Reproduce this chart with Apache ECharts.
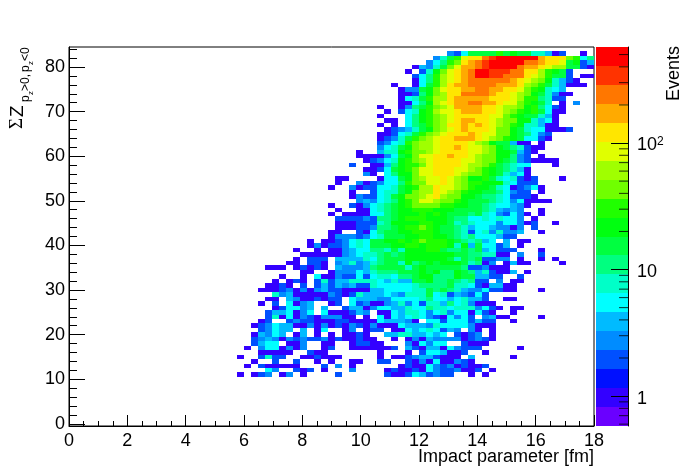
<!DOCTYPE html>
<html>
<head>
<meta charset="utf-8">
<style>html,body{margin:0;padding:0;background:#fff}#chart{width:698px;height:474px}</style>
<script src="https://cdn.jsdelivr.net/npm/echarts@6/dist/echarts.min.js"></script>
</head>
<body>
<div id="chart"></div>
<script>
// each row: Z value is in the name, first entry is the first impact-parameter bin, the rest are event counts
const z11 = [24,1,0,1,2,3,0,1,3,0,1,0,0,0,0,2,0,0,0,0,0,0,2,1,1,2,5,4,2,3,2,2,0,0,1,0,1]
const z12 = [28,5,3,0,0,2,1,2,0,1,0,0,0,3,0,0,0,0,1,2,1,1,2,1,5,3,2,2,3,1,1,2,0,1]
const z13 = [25,1,0,2,1,1,1,1,1,0,0,0,2,0,3,0,1,0,0,0,0,0,0,1,2,1,1,5,3,2,3,1,2,1,1,2]
const z14 = [26,1,0,0,2,0,0,2,0,0,1,0,1,0,0,1,1,0,0,2,2,0,0,2,1,3,1,5,1,1,3,2,1]
const z15 = [24,1,0,0,2,7,2,2,0,0,1,1,2,1,1,1,0,0,0,0,0,1,0,1,1,2,3,4,4,2,1,1,1,0,4,0,0,0,0,0,1]
const z16 = [27,1,1,1,1,1,0,0,2,1,1,0,0,0,0,0,0,0,1,0,0,0,1,0,2,5,5,4,1,1,2,0,0,1]
const z17 = [25,1,0,3,5,5,1,3,1,3,0,0,1,2,0,0,1,1,1,1,1,1,2,0,4,2,1,4,4,1,5,3,2,2,2,0,0,0,0,0,1]
const z18 = [26,2,4,5,6,0,1,1,3,0,0,1,1,0,0,1,2,2,1,1,0,0,0,3,1,5,3,5,5,0,0,2,1,1,1]
const z19 = [26,2,3,4,3,1,3,2,3,2,2,3,1,2,1,1,2,1,1,0,0,1,0,1,3,1,4,3,3,3,3,1,2,3,2,1]
const z20 = [26,1,4,3,5,4,0,1,4,0,1,0,1,0,1,1,2,1,0,0,4,4,7,7,4,4,5,4,5,0,2,1,2,3,0,1]
const z21 = [27,2,3,5,4,4,0,4,0,1,5,0,0,1,3,0,1,2,2,0,1,1,5,4,5,7,5,2,4,3,0,3,1,0,1]
const z22 = [26,1,2,3,5,4,4,1,1,3,1,3,1,2,1,3,2,1,3,1,1,1,6,4,4,4,3,7,5,5,5,5,3,1,1,1]
const z23 = [27,1,2,0,0,2,3,2,2,1,1,1,2,2,1,1,1,1,5,4,4,4,3,1,0,5,5,2,5,5,5,2,4,2,2,0,0,1]
const z24 = [28,2,7,1,5,1,3,2,1,3,3,3,1,1,0,1,0,5,1,5,4,5,8,5,3,2,1,5,3,5,2,0,3,4,1,1,0,0,0,0,1]
const z25 = [28,2,4,4,6,1,3,5,0,5,1,1,1,2,4,3,0,1,1,5,4,8,8,5,3,5,7,3,6,5,1,5,2,1,0,0,1]
const z26 = [29,1,2,6,5,3,4,0,4,0,0,2,4,4,1,3,5,5,4,4,8,5,5,10,7,7,5,7,8,8,3,5,2,1,0,1,1]
const z27 = [27,1,0,2,0,5,1,3,4,0,0,1,2,0,5,2,3,1,1,3,4,7,3,5,2,8,8,4,10,5,8,3,1,1,1]
const z28 = [28,1,1,0,4,3,1,1,2,1,2,2,0,5,4,4,4,3,3,5,5,5,5,8,10,5,6,4,5,8,4,4,2,0,0,1,1]
const z29 = [29,7,3,4,1,1,1,1,1,3,2,1,2,7,4,4,4,5,4,3,7,7,8,15,6,8,2,4,3,2,5,2]
const z30 = [27,1,1,1,2,3,1,3,1,3,4,2,2,1,1,1,1,4,4,5,5,5,5,8,8,15,10,15,10,7,4,3,3,6,2,2,1,1,0,0,0,1]
const z31 = [28,1,1,2,1,0,2,0,2,4,2,4,3,4,2,2,7,5,5,5,5,5,8,10,10,10,10,15,8,8,5,2,1,4,4,1,1]
const z32 = [29,1,0,1,2,1,0,2,8,2,4,4,7,7,7,7,5,4,8,4,4,15,15,21,10,10,15,10,8,10,2,2,0,3,0,1,1]
const z33 = [30,1,0,0,1,0,5,1,1,3,2,2,5,2,5,8,8,5,10,10,15,21,21,10,10,10,21,15,15,4,4,2,2,0,0,2]
const z34 = [33,1,1,0,0,1,3,3,3,5,4,8,10,10,10,15,15,15,21,15,21,10,10,21,15,10,4,7,2,1,1,4,0,1]
const z35 = [28,1,1,1,0,1,2,1,2,1,0,4,3,3,3,4,10,15,15,15,15,8,15,21,15,15,15,15,15,10,2,2,3,1,1,1]
const z36 = [31,1,1,0,2,2,1,0,3,4,7,3,4,8,10,15,15,8,21,10,15,21,15,21,21,21,15,8,10,1,3,0,1,4,1,1,0,0,0,0,1]
const z37 = [32,1,0,2,2,2,0,4,4,4,4,8,5,10,15,15,15,21,21,21,21,21,21,15,8,15,10,15,2,2,3,3,0,1,0,0,1,0,1]
const z38 = [33,1,1,1,1,1,1,3,4,5,7,8,10,15,10,15,21,21,21,21,21,21,21,15,15,10,10,8,8,1,1,0,3,0,0,2]
const z39 = [32,1,0,0,1,0,1,1,3,4,5,5,10,10,8,15,8,21,21,21,30,30,15,10,10,15,10,15,4,5,2,2,2,0,0,0,1]
const z40 = [34,1,3,1,2,2,3,5,8,5,15,15,15,21,21,30,30,21,30,30,30,21,8,21,4,15,5,5,2,4,0,1]
const z41 = [34,1,0,1,1,2,3,5,7,5,15,15,21,21,30,21,30,42,30,30,30,21,15,10,8,10,4,5,0,4,0,1,1]
const z42 = [37,1,3,3,3,2,3,5,8,15,15,15,21,21,30,30,21,21,15,10,8,10,5,5,5,4,2,2]
const z43 = [37,1,1,0,0,2,1,5,10,15,15,21,21,30,30,30,21,15,15,10,8,2,5,8,3,7,3,3,4,0,0,1]
const z44 = [38,1,1,1,2,2,3,10,10,15,21,30,30,42,30,21,15,15,10,8,4,6,5,4,3,3,1,3,0,2]
const z45 = [38,1,1,1,2,2,2,7,10,21,21,21,21,30,30,21,21,15,8,10,8,6,6,5,3,5,5,3,1,2,0,0,1]
const z46 = [38,2,2,2,2,3,2,10,10,15,21,30,30,30,21,21,21,15,10,10,5,5,7,5,7,5,5,3,0,1]
const z47 = [37,1,0,1,1,1,1,5,5,10,15,21,21,21,30,21,30,21,15,15,15,10,15,8,5,3,2,5,3,1,0,1]
const z48 = [38,1,0,0,1,1,5,8,10,15,21,21,30,30,30,21,21,21,15,15,15,15,10,8,4,3,4,3,0,0,1]
const z49 = [37,1,0,0,2,1,3,5,8,10,15,21,30,42,42,42,42,30,30,21,21,15,15,10,8,6,5,4,3,1]
const z50 = [41,3,4,3,5,8,10,21,30,42,84,84,60,42,42,30,21,15,15,15,10,8,5,3,5,1,1,1,1]
const z51 = [40,1,3,2,2,5,8,15,21,42,42,60,84,118,60,42,42,21,21,15,10,10,8,5,2,2,2,1]
const z52 = [40,1,0,0,2,5,7,8,15,21,42,60,60,118,84,60,42,30,21,21,15,15,10,5,3,2,2,0,1]
const z53 = [37,1,0,0,3,1,2,2,5,5,8,15,21,30,60,60,118,84,84,60,42,30,21,21,15,8,6,1,2,3,5,1]
const z54 = [38,1,0,0,3,1,2,3,5,5,10,30,42,42,84,84,118,84,60,42,30,30,21,21,21,8,6,2,2,2]
const z55 = [38,1,1,0,0,0,0,1,5,5,15,21,42,60,84,84,118,84,60,42,21,21,30,15,8,6,7,2,1,2,0,0,0,1]
const z56 = [42,3,1,0,5,10,21,21,42,84,84,118,118,118,84,60,42,42,30,21,15,8,4,5,1]
const z57 = [42,1,1,2,5,15,21,30,42,84,84,118,118,118,84,84,60,42,30,21,15,10,7,4,1]
const z58 = [40,2,0,0,1,1,4,10,21,30,30,42,84,118,118,118,118,84,60,60,42,30,15,10,8,5,5,0,0,0,1]
const z59 = [42,1,2,3,5,7,21,30,42,60,84,118,118,118,118,84,84,60,42,42,21,15,10,3,2,1,1,1,1]
const z60 = [41,1,1,1,1,3,5,15,21,42,84,84,118,118,166,118,118,84,60,42,42,21,21,10,3,2,0,1]
const z61 = [41,1,0,0,4,8,8,21,30,42,42,60,84,118,118,118,118,84,84,60,42,21,21,15,4,2,1]
const z62 = [44,3,5,7,15,21,42,60,60,84,118,118,166,118,84,84,60,42,21,15,10,7,2,1,1]
const z63 = [44,2,3,5,8,30,42,60,60,84,118,118,118,118,84,60,42,21,15,15,4,1,1,0,1]
const z64 = [44,1,2,3,8,15,30,42,60,84,118,118,166,166,166,118,84,60,42,30,21,15,5,5,2,1]
const z65 = [44,1,1,2,5,8,15,30,42,60,84,118,118,118,166,118,84,84,42,42,21,15,10,5,3,2]
const z66 = [45,1,2,3,4,8,15,21,42,60,84,118,166,118,118,118,84,42,42,21,15,8,5,5,1,1,1,2]
const z67 = [44,1,0,1,0,5,10,15,30,42,60,118,118,166,118,166,118,84,60,42,30,21,8,8,4,1,1]
const z68 = [45,1,1,0,5,10,21,30,42,60,84,118,166,166,118,118,84,60,42,42,21,21,7,4,5,1]
const z69 = [44,1,0,0,0,5,10,21,30,42,60,84,118,118,118,118,118,84,84,42,30,21,15,15,8,4,1]
const z70 = [45,1,0,2,5,8,21,30,60,84,84,118,166,166,166,118,118,84,60,42,30,21,30,15,5,1,1]
const z71 = [44,1,0,0,1,3,10,15,30,42,60,84,166,166,166,166,118,118,84,60,60,42,21,30,10,5,2,1]
const z72 = [47,1,1,5,10,21,60,84,118,166,166,234,234,166,166,118,84,84,42,30,21,15,8,0,1,0,3]
const z73 = [47,1,5,8,15,30,60,60,118,166,166,166,166,166,118,118,118,84,60,30,30,10,7,2,2]
const z74 = [47,1,1,2,10,21,42,60,118,118,234,234,234,234,166,118,118,84,60,42,21,15,8,3,1,1]
const z75 = [47,1,3,3,15,21,42,84,118,118,166,166,234,234,166,166,118,118,84,42,30,21,8,5,4]
const z76 = [46,1,0,0,1,5,15,30,60,118,166,166,234,234,234,234,166,166,166,118,60,42,30,15,7,4,1,1,1]
const z77 = [49,1,5,10,30,60,84,118,166,234,234,234,234,234,234,166,118,84,60,42,21,8,4,2,1]
const z78 = [49,2,5,10,30,60,84,118,166,234,465,465,330,330,234,234,234,118,84,60,30,15,15,2,0,1,1]
const z79 = [48,1,0,2,8,21,42,84,118,166,234,465,465,330,330,330,234,234,118,118,60,30,21,15,2]
const z80 = [49,1,4,3,7,15,42,84,166,166,234,330,465,465,465,465,234,166,166,118,84,60,60,15,15,2,1]
const z81 = [51,3,5,10,30,42,118,166,234,330,465,465,465,465,465,234,234,166,118,118,84,15,21,2,4]
const z82 = [52,3,8,15,30,84,118,118,234,330,465,465,465,465,465,465,166,118,118,118,42,30,5,10]
const z83 = [54,3,2,5,15,15,15,15,30,15,21,15,15,8,8,4,1,2,0,0,1]

const zRows = [z11,z12,z13,z14,z15,z16,z17,z18,z19,z20,z21,z22,z23,z24,z25,z26,z27,z28,z29,z30,z31,z32,z33,z34,z35,z36,z37,z38,z39,z40,z41,z42,z43,z44,z45,z46,z47,z48,z49,z50,z51,z52,z53,z54,z55,z56,z57,z58,z59,z60,z61,z62,z63,z64,z65,z66,z67,z68,z69,z70,z71,z72,z73,z74,z75,z76,z77,z78,z79,z80,z81,z82,z83]
const firstZ = 11
const binWidth = 18 / 75

const zTicks = [0,10,20,30,40,50,60,70,80]
const zMinorTicks = [2,4,6,8,12,14,16,18,22,24,26,28,32,34,36,38,42,44,46,48,52,54,56,58,62,64,66,68,72,74,76,78,82,84]

const palette = ['#6a00ff','#3300ff','#0010ff','#0050ff','#008cff','#00bbff','#00ffff','#00ffc8','#00ff80','#00ff40','#00ff10','#20ff00','#70ff00','#a0ff00','#e0ff00','#ffe600','#ffaa00','#ff7700','#ff3300','#ff0000']
const zMin = 0.58
const zMax = 574
const barMajor = [1, 10, 100]
const barMinor = [0.6,0.7,0.8,0.9,2,3,4,5,6,7,8,9,20,30,40,50,60,70,80,90,200,300,400,500]

const cells = []
zRows.forEach((row, r) => {
  row.slice(1).forEach((n, k) => {
    if (n > 0) {
      const bin = row[0] + k
      cells.push([bin * binWidth, (bin + 1) * binWidth, firstZ + r - 0.5, firstZ + r + 0.5, n])
    }
  })
})

const bandOf = v => {
  const b = Math.floor(Math.log(v / zMin) / Math.log(zMax / zMin) * palette.length)
  return Math.max(0, Math.min(palette.length - 1, b))
}
const bandEdge = b => zMin * Math.pow(zMax / zMin, b / palette.length)

const bands = palette.map((c, b) => [bandEdge(b), bandEdge(b + 1), b])

const sans = '"Liberation Sans", Arial, sans-serif'

const titlePart = (text, lx, ly, size, family) => ({
  type: 'text',
  x: lx,
  y: ly,
  silent: true,
  style: { text, fontSize: size, fontFamily: family || sans, fill: '#000', verticalAlign: 'bottom' }
})

const chart = echarts.init(document.getElementById('chart'), null, { renderer: 'canvas' })
chart.setOption({
  animation: false,
  backgroundColor: '#fff',
  grid: [
    { left: 69, right: 104, top: 47, bottom: 48, show: true, borderColor: '#000', borderWidth: 1, backgroundColor: 'transparent' },
    { left: 596, right: 70, top: 47, bottom: 48 }
  ],
  xAxis: [
    {
      type: 'value', gridIndex: 0, min: 0, max: 18, interval: 2,
      axisLine: { lineStyle: { color: '#000' }, onZero: false },
      axisTick: { show: true, inside: true, length: 11, lineStyle: { color: '#000' } },
      minorTick: { show: true, splitNumber: 4, length: 5, lineStyle: { color: '#000' } },
      splitLine: { show: false },
      axisLabel: { color: '#000', fontSize: 18, fontFamily: sans, margin: 6, showMaxLabel: true, hideOverlap: false }
    },
    { type: 'value', gridIndex: 1, min: 0, max: 1, show: false }
  ],
  yAxis: [
    {
      type: 'value', gridIndex: 0, min: -0.5, max: 84.5,
      axisLine: { lineStyle: { color: '#000' }, onZero: false },
      axisTick: { show: true, inside: true, length: 16, customValues: zTicks, lineStyle: { color: '#000' } },
      splitLine: { show: false },
      axisLabel: { color: '#000', fontSize: 18, fontFamily: sans, margin: 4, customValues: zTicks, padding: [3, 0, 0, 0] }
    },
    {
      type: 'log', gridIndex: 1, position: 'right', logBase: 10, min: zMin, max: zMax, z: 10,
      axisLine: { show: true, onZero: false, lineStyle: { color: '#000' } },
      axisTick: { show: true, inside: true, length: 17, customValues: barMajor, lineStyle: { color: '#000' } },
      splitLine: { show: false },
      axisLabel: {
        color: '#000', fontSize: 18, fontFamily: sans, margin: 9, align: 'left', padding: [5, 0, 0, 0],
        customValues: barMajor,
        formatter: v => {
          if (Math.abs(v - 1) < 1e-6) return '1'
          if (Math.abs(v - 10) < 1e-6) return '10'
          if (Math.abs(v - 100) < 1e-6) return '{b|10}{s|2}'
          return ''
        },
        rich: {
          b: { fontSize: 18, fontFamily: sans, color: '#000' },
          s: { fontSize: 12, fontFamily: sans, color: '#000', padding: [0, 0, 8, 0] }
        }
      }
    },
    {
      type: 'value', gridIndex: 0, min: -0.5, max: 84.5, position: 'left',
      axisLine: { show: false },
      axisTick: { show: true, inside: true, length: 8, customValues: zMinorTicks, lineStyle: { color: '#000' } },
      splitLine: { show: false },
      axisLabel: { show: false }
    }
  ],
  series: [
    {
      type: 'custom',
      xAxisIndex: 0,
      yAxisIndex: 0,
      silent: true,
      clip: true,
      data: cells,
      encode: { x: [0, 1], y: [2, 3] },
      renderItem: (params, api) => {
        const a = api.coord([api.value(0), api.value(2)])
        const b = api.coord([api.value(1), api.value(3)])
        const x0 = Math.round(a[0])
        const y1 = Math.round(a[1])
        const x1 = Math.round(b[0])
        const y0 = Math.round(b[1])
        return {
          type: 'rect',
          shape: { x: x0, y: y0, width: x1 - x0, height: y1 - y0 },
          style: { fill: palette[bandOf(api.value(4))] }
        }
      }
    },
    {
      type: 'custom',
      xAxisIndex: 1,
      yAxisIndex: 1,
      silent: true,
      z: 1,
      data: bands,
      encode: { y: [0, 1] },
      renderItem: (params, api) => {
        const a = api.coord([0, api.value(0)])
        const b = api.coord([1, api.value(1)])
        const y1 = Math.round(a[1])
        const y0 = Math.round(b[1])
        return {
          type: 'rect',
          shape: { x: a[0], y: y0, width: b[0] - a[0], height: y1 - y0 },
          style: { fill: palette[api.value(2)] }
        }
      }
    },
    {
      type: 'scatter',
      xAxisIndex: 1,
      yAxisIndex: 1,
      silent: true,
      z: 20,
      clip: false,
      symbol: 'rect',
      symbolSize: [9, 1],
      symbolOffset: [-4.5, 0],
      itemStyle: { color: '#000' },
      data: barMinor.map(v => [1, v])
    }
  ],
  graphic: [
    { type: 'text', right: 104, top: 448, silent: true, style: { text: 'Impact parameter [fm]', fontSize: 18, fontFamily: sans, fill: '#000' } },
    { type: 'text', x: 665, y: 101, rotation: Math.PI / 2, silent: true, style: { text: 'Events', fontSize: 18, fontFamily: sans, fill: '#000' } },
    {
      type: 'group',
      x: 27,
      y: 129,
      rotation: Math.PI / 2,
      children: [
        titlePart('Σ', 0, 0, 19, '"Liberation Serif", serif'),
        titlePart('Z', 12, 0, 19),
        titlePart('p', 27, 5, 12),
        titlePart('z', 34, 8, 8),
        titlePart('>0,', 38, 5, 12),
        titlePart('p', 57, 5, 12),
        titlePart('z', 64, 8, 8),
        titlePart('<0', 68, 5, 12)
      ]
    }
  ]
})
</script>
</body>
</html>
